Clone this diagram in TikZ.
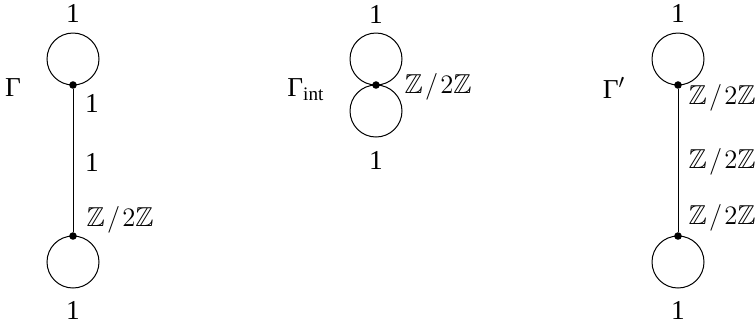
\documentclass[tikz,border=0pt]{standalone}
\usepackage{amsmath,amssymb}
\usepackage{fontspec}
\setmainfont{Liberation Serif}
\usepackage{tikz}
\usetikzlibrary{positioning}
\newcommand{\ztwo}{$\mathbb{Z}\mskip1.5mu/\mskip1.5mu2\mathbb{Z}$}

\begin{document}
\begin{tikzpicture}[
      x=0.45pt, y=-0.45pt,
      font=\fontsize{12.3}{14}\selectfont,
      vtx/.style={circle,fill=black,inner sep=0pt,minimum size=3.4pt},
      edg/.style={line width=0.45pt},
      lbl/.style={inner sep=1pt},
    ]
    \useasboundingbox (0,0) rectangle (755,323);

    % ── Gamma ──────────────────────────────────────────────────────────────
    \node[vtx] (gtop) at (73,85)  {};
    \node[vtx] (gbot) at (73,236) {};
    \draw[edg] (gtop) -- (gbot);
    \draw[edg] (gtop.center) arc[start angle=90,delta angle=360,radius=26];
    \draw[edg] (gbot.center) arc[start angle=-90,delta angle=360,radius=26];

    \node[lbl] (gname)  at (13,88)  {Γ};
    \node[lbl] (gtopl)  at (73,13)  {1};
    \node[lbl] (gbotl)  at (73,310) {1};
    \node[lbl] (gv1)    at (92,103) {1};
    \node[lbl] (ge)     at (92,162) {1};
    \node[lbl,anchor=west] (gv2) at (84,220) {\ztwo};

    % ── Gamma_int ──────────────────────────────────────────────────────────
    \node[vtx] (iv) at (376,85) {};
    \draw[edg] (iv.center) arc[start angle=90,delta angle=360,radius=26];
    \draw[edg] (iv.center) arc[start angle=-90,delta angle=360,radius=26];

    \node[lbl] (iname) at (306,90)  {Γ$_{\text{int}}$};
    \node[lbl] (itopl) at (376,14)  {1};
    \node[lbl] (ibotl) at (376,160) {1};
    \node[lbl,anchor=west] (iz) at (402,87) {\ztwo};

    % ── Gamma' ─────────────────────────────────────────────────────────────
    \node[vtx] (ptop) at (678,85)  {};
    \node[vtx] (pbot) at (678,236) {};
    \draw[edg] (ptop) -- (pbot);
    \draw[edg] (ptop.center) arc[start angle=90,delta angle=360,radius=26];
    \draw[edg] (pbot.center) arc[start angle=-90,delta angle=360,radius=26];

    \node[lbl] (pname) at (614,88)  {Γ$'$};
    \node[lbl] (ptopl) at (678,13)  {1};
    \node[lbl] (pbotl) at (678,310) {1};
    \node[lbl,anchor=west] (pv1) at (686,98)  {\ztwo};
    \node[lbl,anchor=west] (pe)  at (686,162) {\ztwo};
    \node[lbl,anchor=west] (pv2) at (686,218) {\ztwo};

  \end{tikzpicture}
\end{document}
